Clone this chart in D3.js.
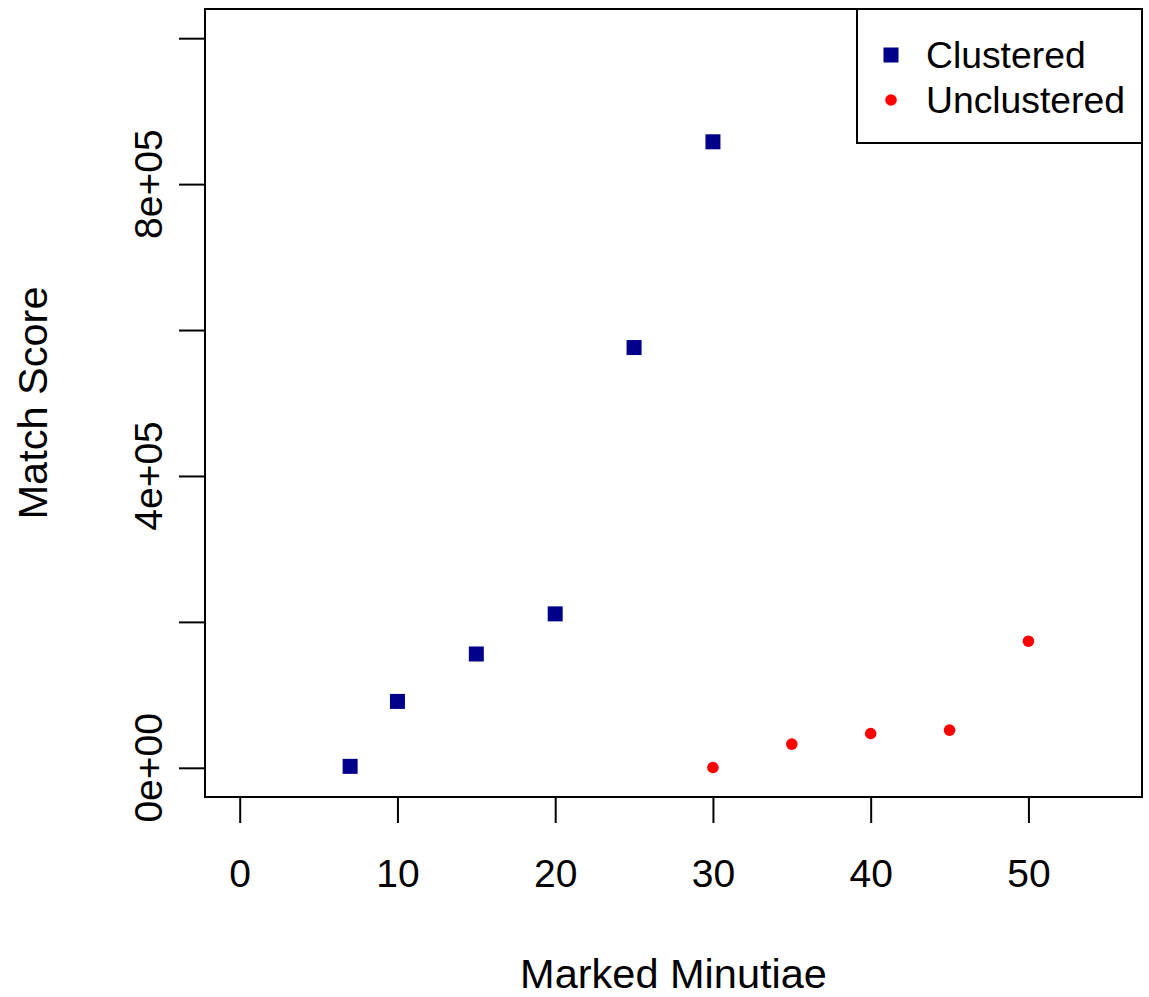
<!DOCTYPE html>
<html>
<head>
<meta charset="utf-8">
<script src="https://cdn.jsdelivr.net/npm/d3@7"></script>
<style>
  body { margin: 0; background: #fff; }
  text { font-family: "Liberation Sans", Arial, sans-serif; fill: #000; }
</style>
</head>
<body>
<div class="chart"></div>
<script>
// data
const clusteredX = [7, 10, 15, 20, 25, 30]
const clusteredY = [2000, 91000, 156000, 211000, 576000, 858000]
const unclusteredX = [30, 35, 40, 45, 50]
const unclusteredY = [400, 32500, 47000, 51600, 173500]
const xTicks = [0, 10, 20, 30, 40, 50]
const yTicks = [0, 200000, 400000, 600000, 800000, 1000000]
const yLabels = ['0e+00', '', '4e+05', '', '8e+05', '']

const W = 1149, H = 997
const pLeft = 205, pRight = 1142, pTop = 9, pBottom = 797

const svg = d3.select('.chart').append('svg')
  .attr('width', W).attr('height', H)

const x = d3.scaleLinear().domain([-2.2, 57.2]).range([pLeft, pRight])
const y = d3.scaleLinear().domain([-40000, 1040000]).range([pBottom, pTop])

// x axis
const xAxis = svg.append('g')
  .attr('transform', `translate(0,${pBottom})`)
  .call(d3.axisBottom(x).tickValues(xTicks).tickSize(26).tickPadding(36).tickFormat(d3.format('d')))
xAxis.select('.domain').remove()
xAxis.selectAll('line').attr('stroke', '#000').attr('stroke-width', 2)
xAxis.selectAll('text').attr('font-size', 39).attr('fill', '#000')
  .style('font-family', '"Liberation Sans", Arial, sans-serif')

// y axis
const yAxis = svg.append('g')
  .attr('transform', `translate(${pLeft},0)`)
  .call(d3.axisLeft(y).tickValues(yTicks).tickSize(26).tickFormat(''))
yAxis.select('.domain').remove()
yAxis.selectAll('line').attr('stroke', '#000').attr('stroke-width', 2)

svg.selectAll('.ylab')
  .data(yTicks.map((v, i) => ({v, t: yLabels[i]})).filter(d => d.t))
  .enter().append('text')
  .attr('class', 'ylab')
  .attr('transform', d => `translate(162,${y(d.v)}) rotate(-90)`)
  .attr('text-anchor', 'middle')
  .attr('font-size', 39)
  .text(d => d.t)

// box
svg.append('rect')
  .attr('x', pLeft).attr('y', pTop)
  .attr('width', pRight - pLeft).attr('height', pBottom - pTop)
  .attr('fill', 'none').attr('stroke', '#000').attr('stroke-width', 2)

// titles
svg.append('text')
  .attr('x', (pLeft + pRight) / 2).attr('y', 988)
  .attr('text-anchor', 'middle').attr('font-size', 41.5)
  .text('Marked Minutiae')

svg.append('text')
  .attr('transform', `translate(47,${(pTop + pBottom) / 2}) rotate(-90)`)
  .attr('text-anchor', 'middle').attr('font-size', 41.5)
  .text('Match Score')

// points
const sq = 15
svg.selectAll('.clus')
  .data(clusteredX.map((d, i) => [d, clusteredY[i]]))
  .enter().append('rect')
  .attr('class', 'clus')
  .attr('x', d => x(d[0]) - sq / 2)
  .attr('y', d => y(d[1]) - sq / 2)
  .attr('width', sq).attr('height', sq)
  .attr('fill', '#00008B')

svg.selectAll('.uncl')
  .data(unclusteredX.map((d, i) => [d, unclusteredY[i]]))
  .enter().append('circle')
  .attr('class', 'uncl')
  .attr('cx', d => x(d[0]))
  .attr('cy', d => y(d[1]))
  .attr('r', 5.8)
  .attr('fill', '#FF0000')

// legend
const lg = svg.append('g')
lg.append('rect')
  .attr('x', 857).attr('y', pTop)
  .attr('width', pRight - 857).attr('height', 143 - pTop)
  .attr('fill', '#fff').attr('stroke', '#000').attr('stroke-width', 2)
lg.append('rect')
  .attr('x', 891 - 7.5).attr('y', 55 - 7.5)
  .attr('width', sq).attr('height', sq)
  .attr('fill', '#00008B')
lg.append('circle')
  .attr('cx', 891).attr('cy', 100).attr('r', 5.8)
  .attr('fill', '#FF0000')
lg.append('text')
  .attr('x', 926).attr('y', 68).attr('font-size', 37.3)
  .text('Clustered')
lg.append('text')
  .attr('x', 926).attr('y', 113).attr('font-size', 37.3)
  .text('Unclustered')
</script>
</body>
</html>
